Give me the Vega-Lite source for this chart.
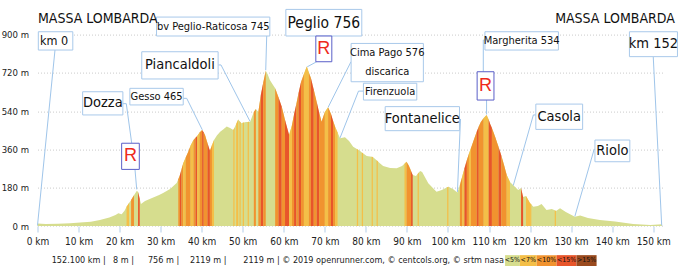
{
"$schema": "https://vega.github.io/schema/vega-lite/v6.json",
"width": 626, "height": 223.4,
"autosize": {"type": "none"},
"padding": {"left": 37.5, "top": 2.6, "right": 14.5, "bottom": 40},
"background": "white",
"config": {"view": {"stroke": null}, "font": "Liberation Sans Narrow, DejaVu Sans Condensed, sans-serif", "text": {"font": "Liberation Sans Narrow, DejaVu Sans Condensed, sans-serif"}, "axis": {"labelFont": "Liberation Sans Narrow, DejaVu Sans Condensed, sans-serif"}},
"datasets": {
"pts": [
{"km":0,"ele":12},{"km":2,"ele":9},{"km":5,"ele":10},{"km":8,"ele":13},{"km":10.4,"ele":16},{"km":13,"ele":20},{"km":15.2,"ele":28},{"km":17.5,"ele":40},{"km":19.0,"ele":52},{"km":19.7,"ele":60},{"km":20.5,"ele":55},{"km":21.2,"ele":72},{"km":21.7,"ele":91},{"km":22.3,"ele":108},{"km":22.8,"ele":122},{"km":23.5,"ele":145},{"km":24.2,"ele":166},{"km":24.5,"ele":160},{"km":24.9,"ele":128},{"km":25.2,"ele":103},{"km":26.2,"ele":117},{"km":27.9,"ele":132},{"km":29.5,"ele":145},{"km":30.6,"ele":155},{"km":32.3,"ele":174},{"km":33.9,"ele":202},{"km":34.3,"ele":220},{"km":34.7,"ele":240},{"km":35.1,"ele":268},{"km":35.5,"ele":295},{"km":36.1,"ele":322},{"km":36.7,"ele":348},{"km":37.3,"ele":378},{"km":38.0,"ele":404},{"km":38.5,"ele":415},{"km":38.9,"ele":423},{"km":39.5,"ele":440},{"km":40.1,"ele":451},{"km":40.5,"ele":440},{"km":40.8,"ele":428},{"km":41.4,"ele":390},{"km":42.0,"ele":354},{"km":42.5,"ele":380},{"km":43.0,"ele":404},{"km":43.7,"ele":425},{"km":44.5,"ele":443},{"km":45.3,"ele":455},{"km":46.1,"ele":468},{"km":46.9,"ele":461},{"km":47.7,"ele":451},{"km":48.0,"ele":463},{"km":48.4,"ele":479},{"km":48.9,"ele":501},{"km":49.2,"ele":494},{"km":49.5,"ele":487},{"km":49.7,"ele":483},{"km":50.0,"ele":485},{"km":50.3,"ele":487},{"km":50.8,"ele":489},{"km":51.2,"ele":489},{"km":51.5,"ele":490},{"km":51.8,"ele":490},{"km":52.7,"ele":536},{"km":53.2,"ele":550},{"km":53.8,"ele":536},{"km":54.4,"ele":616},{"km":55.0,"ele":675},{"km":55.6,"ele":730},{"km":56.1,"ele":712},{"km":56.6,"ele":686},{"km":57.3,"ele":665},{"km":57.9,"ele":647},{"km":58.7,"ele":605},{"km":59.5,"ele":561},{"km":60.3,"ele":498},{"km":61.3,"ele":428},{"km":62.0,"ele":475},{"km":62.5,"ele":525},{"km":63.1,"ele":577},{"km":63.6,"ele":625},{"km":64.2,"ele":677},{"km":64.9,"ele":715},{"km":65.6,"ele":750},{"km":66.1,"ele":722},{"km":66.6,"ele":696},{"km":67.3,"ele":640},{"km":68.0,"ele":584},{"km":68.6,"ele":535},{"km":69.2,"ele":490},{"km":70.0,"ele":536},{"km":70.8,"ele":558},{"km":71.5,"ele":526},{"km":72.0,"ele":495},{"km":72.5,"ele":467},{"km":73.1,"ele":440},{"km":73.7,"ele":412},{"km":74.9,"ele":417},{"km":75.9,"ele":400},{"km":76.9,"ele":373},{"km":77.8,"ele":362},{"km":78.1,"ele":358},{"km":78.6,"ele":352},{"km":79.0,"ele":346},{"km":79.3,"ele":342},{"km":80.2,"ele":329},{"km":81.4,"ele":325},{"km":81.7,"ele":324},{"km":82.6,"ele":309},{"km":82.9,"ele":304},{"km":83.4,"ele":295},{"km":84.2,"ele":282},{"km":85.9,"ele":273},{"km":87.5,"ele":271},{"km":88.8,"ele":282},{"km":89.4,"ele":292},{"km":89.9,"ele":302},{"km":90.5,"ele":282},{"km":91.0,"ele":258},{"km":91.4,"ele":240},{"km":92.2,"ele":235},{"km":92.6,"ele":244},{"km":92.9,"ele":251},{"km":93.2,"ele":258},{"km":93.7,"ele":254},{"km":95.2,"ele":201},{"km":97.2,"ele":161},{"km":98.5,"ele":169},{"km":99.8,"ele":182},{"km":100.1,"ele":185},{"km":101.2,"ele":174},{"km":102.3,"ele":158},{"km":102.9,"ele":193},{"km":103.5,"ele":235},{"km":104.0,"ele":270},{"km":104.6,"ele":310},{"km":105.1,"ele":340},{"km":105.6,"ele":367},{"km":106.3,"ele":405},{"km":107.0,"ele":443},{"km":107.5,"ele":468},{"km":108.0,"ele":489},{"km":108.7,"ele":508},{"km":109.4,"ele":522},{"km":109.9,"ele":500},{"km":110.3,"ele":478},{"km":110.7,"ele":461},{"km":111.5,"ele":418},{"km":112.3,"ele":373},{"km":113.0,"ele":330},{"km":113.6,"ele":290},{"km":114.3,"ele":240},{"km":115.1,"ele":207},{"km":116.1,"ele":188},{"km":117.1,"ele":169},{"km":117.8,"ele":179},{"km":118.3,"ele":136},{"km":119.0,"ele":141},{"km":120.0,"ele":107},{"km":120.3,"ele":101},{"km":120.8,"ele":91},{"km":121.9,"ele":94},{"km":122.8,"ele":103},{"km":124.0,"ele":75},{"km":125.3,"ele":80},{"km":126.0,"ele":74},{"km":126.3,"ele":71},{"km":127.3,"ele":83},{"km":128.7,"ele":66},{"km":130.9,"ele":44},{"km":132.2,"ele":49},{"km":134.1,"ele":38},{"km":137.0,"ele":28},{"km":140.7,"ele":21},{"km":145.1,"ele":9},{"km":149.3,"ele":5},{"km":152.1,"ele":8}
],
"stripes": [
{"s":1,"km":21.7,"ele":91,"c":"<7%"},{"s":1,"km":22.3,"ele":108,"c":"<7%"},
{"s":2,"km":22.8,"ele":122,"c":"<10%"},{"s":2,"km":23.5,"ele":145,"c":"<10%"},
{"s":3,"km":24.5,"ele":160,"c":"<15%"},{"s":3,"km":24.9,"ele":128,"c":"<15%"},
{"s":4,"km":34.3,"ele":220,"c":"<10%"},{"s":4,"km":34.7,"ele":240,"c":"<10%"},
{"s":5,"km":34.7,"ele":240,"c":"<15%"},{"s":5,"km":35.1,"ele":268,"c":"<15%"},
{"s":6,"km":35.1,"ele":268,"c":"<10%"},{"s":6,"km":35.5,"ele":295,"c":"<10%"},
{"s":7,"km":35.5,"ele":295,"c":"<7%"},{"s":7,"km":36.1,"ele":322,"c":"<7%"},
{"s":8,"km":36.1,"ele":322,"c":"<10%"},{"s":8,"km":36.7,"ele":348,"c":"<10%"},{"s":8,"km":37.3,"ele":378,"c":"<10%"},
{"s":9,"km":37.3,"ele":378,"c":"<7%"},{"s":9,"km":38.0,"ele":404,"c":"<7%"},
{"s":10,"km":38.0,"ele":404,"c":"<10%"},{"s":10,"km":38.5,"ele":415,"c":"<10%"},
{"s":11,"km":38.5,"ele":415,"c":"<15%"},{"s":11,"km":38.9,"ele":423,"c":"<15%"},
{"s":12,"km":38.9,"ele":423,"c":"<7%"},{"s":12,"km":39.5,"ele":440,"c":"<7%"},
{"s":13,"km":39.5,"ele":440,"c":"<10%"},{"s":13,"km":40.1,"ele":451,"c":"<10%"},
{"s":14,"km":40.1,"ele":451,"c":"<15%"},{"s":14,"km":40.5,"ele":440,"c":"<15%"},
{"s":15,"km":40.5,"ele":440,"c":"<10%"},{"s":15,"km":40.8,"ele":428,"c":"<10%"},{"s":15,"km":41.4,"ele":390,"c":"<10%"},
{"s":16,"km":41.4,"ele":390,"c":"<15%"},{"s":16,"km":42.0,"ele":354,"c":"<15%"},
{"s":17,"km":42.0,"ele":354,"c":"<10%"},{"s":17,"km":42.5,"ele":380,"c":"<10%"},
{"s":18,"km":42.5,"ele":380,"c":"<7%"},{"s":18,"km":43.0,"ele":404,"c":"<7%"},
{"s":19,"km":48.4,"ele":479,"c":"<7%"},{"s":19,"km":48.9,"ele":501,"c":"<7%"},
{"s":20,"km":52.7,"ele":536,"c":"<10%"},{"s":20,"km":53.2,"ele":550,"c":"<10%"},
{"s":21,"km":53.8,"ele":536,"c":"<10%"},{"s":21,"km":54.4,"ele":616,"c":"<10%"},
{"s":22,"km":54.4,"ele":616,"c":"<15%"},{"s":22,"km":55.0,"ele":675,"c":"<15%"},
{"s":23,"km":55.0,"ele":675,"c":"<10%"},{"s":23,"km":55.6,"ele":730,"c":"<10%"},
{"s":24,"km":57.9,"ele":647,"c":"<10%"},{"s":24,"km":58.7,"ele":605,"c":"<10%"},
{"s":25,"km":58.7,"ele":605,"c":"<15%"},{"s":25,"km":59.5,"ele":561,"c":"<15%"},
{"s":26,"km":59.5,"ele":561,"c":"<10%"},{"s":26,"km":60.3,"ele":498,"c":"<10%"},
{"s":27,"km":60.3,"ele":498,"c":"<15%"},{"s":27,"km":61.3,"ele":428,"c":"<15%"},
{"s":28,"km":61.3,"ele":428,"c":"<7%"},{"s":28,"km":62.0,"ele":475,"c":"<7%"},
{"s":29,"km":62.0,"ele":475,"c":"<10%"},{"s":29,"km":62.5,"ele":525,"c":"<10%"},
{"s":30,"km":62.5,"ele":525,"c":"<15%"},{"s":30,"km":63.1,"ele":577,"c":"<15%"},
{"s":31,"km":63.1,"ele":577,"c":"<10%"},{"s":31,"km":63.6,"ele":625,"c":"<10%"},
{"s":32,"km":63.6,"ele":625,"c":"<15%"},{"s":32,"km":64.2,"ele":677,"c":"<15%"},
{"s":33,"km":64.2,"ele":677,"c":"<10%"},{"s":33,"km":64.9,"ele":715,"c":"<10%"},
{"s":34,"km":64.9,"ele":715,"c":"<7%"},{"s":34,"km":65.6,"ele":750,"c":"<7%"},{"s":34,"km":66.1,"ele":722,"c":"<7%"},
{"s":35,"km":66.1,"ele":722,"c":"<10%"},{"s":35,"km":66.6,"ele":696,"c":"<10%"},
{"s":36,"km":66.6,"ele":696,"c":"<15%"},{"s":36,"km":67.3,"ele":640,"c":"<15%"},
{"s":37,"km":67.3,"ele":640,"c":"<10%"},{"s":37,"km":68.0,"ele":584,"c":"<10%"},
{"s":38,"km":68.0,"ele":584,"c":"<15%"},{"s":38,"km":68.6,"ele":535,"c":"<15%"},
{"s":39,"km":68.6,"ele":535,"c":"<10%"},{"s":39,"km":69.2,"ele":490,"c":"<10%"},{"s":39,"km":70.0,"ele":536,"c":"<10%"},
{"s":40,"km":70.0,"ele":536,"c":"<7%"},{"s":40,"km":70.8,"ele":558,"c":"<7%"},
{"s":41,"km":70.8,"ele":558,"c":"<10%"},{"s":41,"km":71.5,"ele":526,"c":"<10%"},
{"s":42,"km":71.5,"ele":526,"c":"<15%"},{"s":42,"km":72.0,"ele":495,"c":"<15%"},
{"s":43,"km":72.0,"ele":495,"c":"<10%"},{"s":43,"km":72.5,"ele":467,"c":"<10%"},
{"s":44,"km":72.5,"ele":467,"c":"<7%"},{"s":44,"km":73.1,"ele":440,"c":"<7%"},
{"s":45,"km":89.4,"ele":292,"c":"<7%"},{"s":45,"km":89.9,"ele":302,"c":"<7%"},
{"s":46,"km":89.9,"ele":302,"c":"<10%"},{"s":46,"km":90.5,"ele":282,"c":"<10%"},{"s":46,"km":91.0,"ele":258,"c":"<10%"},
{"s":47,"km":91.0,"ele":258,"c":"<15%"},{"s":47,"km":91.4,"ele":240,"c":"<15%"},
{"s":48,"km":102.9,"ele":193,"c":"<10%"},{"s":48,"km":103.5,"ele":235,"c":"<10%"},
{"s":49,"km":103.5,"ele":235,"c":"<7%"},{"s":49,"km":104.0,"ele":270,"c":"<7%"},
{"s":50,"km":104.0,"ele":270,"c":"<15%"},{"s":50,"km":104.6,"ele":310,"c":"<15%"},
{"s":51,"km":104.6,"ele":310,"c":"<10%"},{"s":51,"km":105.1,"ele":340,"c":"<10%"},
{"s":52,"km":105.1,"ele":340,"c":"<7%"},{"s":52,"km":105.6,"ele":367,"c":"<7%"},
{"s":53,"km":105.6,"ele":367,"c":"<10%"},{"s":53,"km":106.3,"ele":405,"c":"<10%"},{"s":53,"km":107.0,"ele":443,"c":"<10%"},
{"s":54,"km":107.0,"ele":443,"c":"<15%"},{"s":54,"km":107.5,"ele":468,"c":"<15%"},
{"s":55,"km":107.5,"ele":468,"c":"<10%"},{"s":55,"km":108.0,"ele":489,"c":"<10%"},{"s":55,"km":108.7,"ele":508,"c":"<10%"},
{"s":56,"km":108.7,"ele":508,"c":"<7%"},{"s":56,"km":109.4,"ele":522,"c":"<7%"},{"s":56,"km":109.9,"ele":500,"c":"<7%"},
{"s":57,"km":109.9,"ele":500,"c":"<15%"},{"s":57,"km":110.3,"ele":478,"c":"<15%"},{"s":57,"km":110.7,"ele":461,"c":"<15%"},
{"s":58,"km":110.7,"ele":461,"c":"<10%"},{"s":58,"km":111.5,"ele":418,"c":"<10%"},{"s":58,"km":112.3,"ele":373,"c":"<10%"},
{"s":59,"km":112.3,"ele":373,"c":"<15%"},{"s":59,"km":113.0,"ele":330,"c":"<15%"},
{"s":60,"km":113.0,"ele":330,"c":"<10%"},{"s":60,"km":113.6,"ele":290,"c":"<10%"},{"s":60,"km":114.3,"ele":240,"c":"<10%"},
{"s":61,"km":114.3,"ele":240,"c":"<7%"},{"s":61,"km":115.1,"ele":207,"c":"<7%"},
{"s":62,"km":117.8,"ele":179,"c":"<15%"},{"s":62,"km":118.3,"ele":136,"c":"<15%"},
{"s":63,"km":119.0,"ele":141,"c":"<7%"},{"s":63,"km":120.0,"ele":107,"c":"<7%"},
{"s":64,"km":47.7,"ele":451,"c":"<7%"},{"s":64,"km":48.0,"ele":463,"c":"<7%"},
{"s":65,"km":49.2,"ele":494,"c":"<7%"},{"s":65,"km":49.5,"ele":487,"c":"<7%"},
{"s":66,"km":50.0,"ele":485,"c":"<7%"},{"s":66,"km":50.3,"ele":487,"c":"<7%"},
{"s":67,"km":51.2,"ele":489,"c":"<7%"},{"s":67,"km":51.5,"ele":490,"c":"<7%"},
{"s":68,"km":77.8,"ele":362,"c":"<7%"},{"s":68,"km":78.1,"ele":358,"c":"<7%"},
{"s":69,"km":79.0,"ele":346,"c":"<7%"},{"s":69,"km":79.3,"ele":342,"c":"<7%"},
{"s":70,"km":81.4,"ele":325,"c":"<7%"},{"s":70,"km":81.7,"ele":324,"c":"<7%"},
{"s":71,"km":82.6,"ele":309,"c":"<7%"},{"s":71,"km":82.9,"ele":304,"c":"<7%"},
{"s":72,"km":92.6,"ele":244,"c":"<7%"},{"s":72,"km":92.9,"ele":251,"c":"<7%"},
{"s":73,"km":99.8,"ele":182,"c":"<7%"},{"s":73,"km":100.1,"ele":185,"c":"<7%"},
{"s":74,"km":120.0,"ele":107,"c":"<7%"},{"s":74,"km":120.3,"ele":101,"c":"<7%"},
{"s":75,"km":126.0,"ele":74,"c":"<7%"},{"s":75,"km":126.3,"ele":71,"c":"<7%"}
],
"leaders": [
{"km":4.26,"ele":827,"km2":0.0,"ele2":3},
{"km":20.75,"ele":575,"km2":21.63,"ele2":575},
{"km":21.63,"ele":575,"km2":22.95,"ele2":389},
{"km":23.75,"ele":266,"km2":24.17,"ele2":172},
{"km":35.52,"ele":600,"km2":36.35,"ele2":600},
{"km":36.35,"ele":600,"km2":40.15,"ele2":452},
{"km":44.05,"ele":757,"km2":44.7,"ele2":757},
{"km":44.7,"ele":757,"km2":51.77,"ele2":492},
{"km":55.84,"ele":893,"km2":55.6,"ele2":732},
{"km":68.0,"ele":772,"km2":65.7,"ele2":748},
{"km":76.37,"ele":772,"km2":70.8,"ele2":558},
{"km":79.37,"ele":634,"km2":78.2,"ele2":634},
{"km":78.2,"ele":634,"km2":73.7,"ele2":414},
{"km":103.05,"ele":503,"km2":102.3,"ele2":160},
{"km":109.0,"ele":874,"km2":108.6,"ele2":874},
{"km":108.6,"ele":874,"km2":108.6,"ele2":725},
{"km":109.4,"ele":592,"km2":109.4,"ele2":524},
{"km":150.0,"ele":796,"km2":152.06,"ele2":3},
{"km":121.4,"ele":522,"km2":120.8,"ele2":522},
{"km":120.8,"ele":522,"km2":115.9,"ele2":190},
{"km":135.8,"ele":360,"km2":135.6,"ele2":360},
{"km":135.6,"ele":360,"km2":130.9,"ele2":45}
],
"boxes": [
{"km":0.2,"ele":913,"km2":8.6,"ele2":827},
{"km":11.0,"ele":631,"km2":20.8,"ele2":522},
{"km":22.5,"ele":647,"km2":35.5,"ele2":569},
{"km":25.4,"ele":819,"km2":44.0,"ele2":691},
{"km":29.0,"ele":982,"km2":56.6,"ele2":893},
{"km":60.5,"ele":1018,"km2":79.0,"ele2":893},
{"km":76.4,"ele":858,"km2":94.0,"ele2":678},
{"km":79.4,"ele":671,"km2":92.4,"ele2":592},
{"km":84.7,"ele":561,"km2":102.8,"ele2":448},
{"km":109.0,"ele":913,"km2":126.9,"ele2":827},
{"km":144.2,"ele":913,"km2":155.9,"ele2":796},
{"km":121.4,"ele":573,"km2":132.8,"ele2":454},
{"km":135.8,"ele":404,"km2":144.3,"ele2":302}
],
"rboxes": [
{"km":20.5,"ele":389,"km2":24.8,"ele2":266},
{"km":67.8,"ele":893,"km2":71.7,"ele2":772},
{"km":107.1,"ele":725,"km2":111.2,"ele2":592}
],
"small": [
{"km":29.0,"ele":608,"t":"Gesso 465"},
{"km":42.8,"ele":937,"t":"bv Peglio-Raticosa 745"},
{"km":85.2,"ele":811,"t":"Cima Pago 576"},
{"km":85.2,"ele":725,"t":"discarica"},
{"km":85.9,"ele":631,"t":"Firenzuola"},
{"km":117.95,"ele":870,"t":"Margherita 534"}
],
"big": [
{"km":15.9,"ele":577,"t":"Dozza"},
{"km":34.7,"ele":755,"t":"Piancaldoli"},
{"km":93.75,"ele":504,"t":"Fontanelice"},
{"km":127.1,"ele":513,"t":"Casola"},
{"km":140.05,"ele":353,"t":"Riolo"},
{"km":150.05,"ele":854,"t":"km 152"}
],
"peglio": [{"km":69.75,"ele":955,"t":"Peglio 756"}],
"rs": [{"km":22.65,"ele":327,"t":"R"},{"km":69.75,"ele":832,"t":"R"},{"km":109.15,"ele":658,"t":"R"}],
"massa": [{"km":0.1,"ele":973,"t":"MASSA LOMBARDA"},{"km":126.1,"ele":973,"t":"MASSA LOMBARDA"}],
"km0": [{"km":0.6,"ele":870,"t":"km  0"}],
"stats": [
{"km":3.46,"ele":-158,"t":"152.100 km |"},
{"km":18.4,"ele":-158,"t":"8 m |"},
{"km":26.9,"ele":-158,"t":"756 m |"},
{"km":37.15,"ele":-158,"t":"2119 m |"},
{"km":50.13,"ele":-158,"t":"2119 m | © 2019 openrunner.com,  © centcols.org,  © srtm nasa"}
],
"leg": [
{"km":113.9,"km2":117.5,"ele":-137,"ele2":-200,"c":"<5%"},
{"km":117.5,"km2":121.6,"ele":-137,"ele2":-200,"c":"<7%"},
{"km":121.6,"km2":126.45,"ele":-137,"ele2":-200,"c":"<10%"},
{"km":126.45,"km2":131.3,"ele":-137,"ele2":-200,"c":"<15%"},
{"km":131.3,"km2":136.2,"ele":-137,"ele2":-200,"c":">15%"}
],
"legt": [
{"km":115.7,"ele":-162,"t":"<5%"},
{"km":119.55,"ele":-162,"t":"<7%"},
{"km":124.0,"ele":-162,"t":"<10%"},
{"km":128.9,"ele":-162,"t":"<15%"},
{"km":133.75,"ele":-162,"t":">15%"}
]
},
"encoding": {
"x": {"field": "km", "type": "quantitative", "scale": {"domain": [0, 152.5], "nice": false, "zero": false},
 "axis": {"values": [0,10,20,30,40,50,60,70,80,90,100,110,120,130,140,150], "labelExpr": "datum.value + ' km'", "domain": false, "grid": false, "tickColor": "#b3cde8", "tickSize": 6, "labelFontSize": 10, "labelColor": "#222222", "labelPadding": 4, "labelOverlap": false, "labelFlush": false, "title": null}},
"y": {"field": "ele", "type": "quantitative", "stack": null, "scale": {"domain": [0, 1050], "nice": false, "zero": false},
 "axis": {"values": [0,180,360,540,720,900], "labelExpr": "datum.value + ' m'", "domain": false, "ticks": false, "grid": true, "gridColor": "#cccccc", "gridDash": [1,2], "labelFontSize": 9.5, "labelColor": "#222222", "labelPadding": 9, "title": null}}
},
"layer": [
{"data": {"name": "pts"}, "mark": {"type": "area", "color": "#d6dd8e", "interpolate": "linear"}},
{"data": {"name": "stripes"}, "mark": {"type": "area", "interpolate": "linear"},
 "encoding": {"detail": {"field": "s", "type": "nominal"}, "color": {"field": "c", "type": "nominal", "scale": {"domain": ["<5%","<7%","<10%","<15%",">15%"], "range": ["#d6dd8e","#f4bf48","#f1932f","#e8552a","#9a4a1e"]}, "legend": null}}},
{"data": {"name": "leaders"}, "mark": {"type": "rule", "color": "#9fc5ea", "strokeWidth": 1},
 "encoding": {"x2": {"field": "km2"}, "y2": {"field": "ele2"}}},
{"data": {"name": "boxes"}, "mark": {"type": "rect", "fill": "white", "stroke": "#a9c9ea", "strokeWidth": 1},
 "encoding": {"x2": {"field": "km2"}, "y2": {"field": "ele2"}}},
{"data": {"name": "rboxes"}, "mark": {"type": "rect", "fill": "white", "stroke": "#5a5fc8", "strokeWidth": 1},
 "encoding": {"x2": {"field": "km2"}, "y2": {"field": "ele2"}}},
{"data": {"name": "small"}, "mark": {"type": "text", "fontSize": 11, "color": "#111111", "baseline": "middle"}, "encoding": {"text": {"field": "t"}}},
{"data": {"name": "big"}, "mark": {"type": "text", "fontSize": 14.5, "color": "#111111", "baseline": "middle"}, "encoding": {"text": {"field": "t"}}},
{"data": {"name": "peglio"}, "mark": {"type": "text", "fontSize": 15.5, "color": "#111111", "baseline": "middle"}, "encoding": {"text": {"field": "t"}}},
{"data": {"name": "rs"}, "mark": {"type": "text", "fontSize": 18, "color": "#ee2a1c", "baseline": "middle", "font": "Liberation Sans, sans-serif"}, "encoding": {"text": {"field": "t"}}},
{"data": {"name": "massa"}, "mark": {"type": "text", "fontSize": 14, "color": "#111111", "baseline": "middle", "align": "left"}, "encoding": {"text": {"field": "t"}}},
{"data": {"name": "km0"}, "mark": {"type": "text", "fontSize": 12.5, "color": "#111111", "baseline": "middle", "align": "left"}, "encoding": {"text": {"field": "t"}}},
{"data": {"name": "stats"}, "mark": {"type": "text", "fontSize": 9, "color": "#222222", "baseline": "middle", "align": "left"}, "encoding": {"text": {"field": "t"}}},
{"data": {"name": "leg"}, "mark": {"type": "rect"},
 "encoding": {"x2": {"field": "km2"}, "y2": {"field": "ele2"}, "color": {"field": "c", "type": "nominal", "scale": {"domain": ["<5%","<7%","<10%","<15%",">15%"], "range": ["#d6dd8e","#f4bf48","#f1932f","#e8552a","#9a4a1e"]}, "legend": null}}},
{"data": {"name": "legt"}, "mark": {"type": "text", "fontSize": 7, "color": "#111111", "baseline": "middle", "align": "center"}, "encoding": {"text": {"field": "t"}}}
]
}
